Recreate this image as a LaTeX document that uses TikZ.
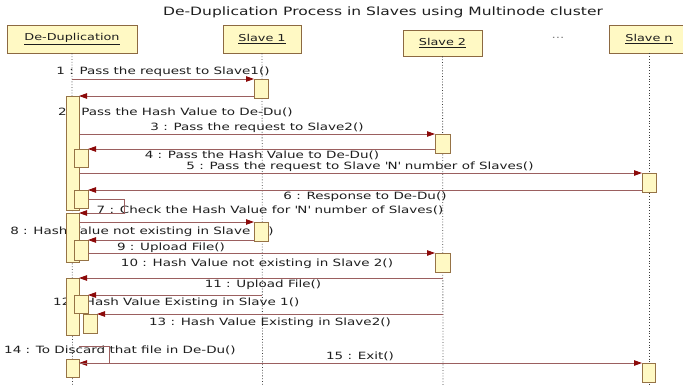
\documentclass[tikz,border=0pt]{standalone}
\usepackage{fontspec}
\setmainfont{DejaVu Sans}[FakeStretch=1.35]
\usepackage{tikz}
\usetikzlibrary{arrows.meta}

\definecolor{boxfill}{RGB}{255,249,196}
\definecolor{headline}{RGB}{140,105,65}
\definecolor{actline}{RGB}{150,115,70}
\definecolor{msgline}{RGB}{155,95,95}
\definecolor{tipred}{RGB}{140,10,10}
\definecolor{lifecol}{RGB}{60,60,60}
\definecolor{txt}{RGB}{30,30,30}

\begin{document}
\begin{tikzpicture}[
  x=1pt, y=-1pt,
  headbox/.style={rectangle, draw=headline, fill=boxfill, line width=0.9pt, minimum height=28, font=\fontsize{9.5}{11}\selectfont, text=txt},
  actbar/.style={rectangle, draw=actline, fill=boxfill, line width=0.8pt, inner sep=0, outer sep=0},
  msgarrow/.style={draw=msgline, line width=0.9pt, -{Triangle[length=8pt,width=5.5pt,color=tipred]}},
  msglabel/.style={inner sep=0, font=\fontsize{10}{12}\selectfont, text=txt},
  lifeline/.style={dotted, line width=0.8pt, draw=lifecol}
]
\useasboundingbox (0,0) rectangle (683,386);

% Title
\node[inner sep=0, font=\fontsize{11.5}{14}\selectfont, text=txt] (title) at (383,12) {De-Duplication Process in Slaves using Multinode cluster};

% Objects
\node[headbox, minimum width=130] (hdd) at (72,39) {\underline{De-Duplication}};
\node[headbox, minimum width=78] (hs1) at (262,39) {\underline{Slave 1}};
\node[headbox, minimum width=79, minimum height=26] (hs2) at (442.5,43) {\underline{Slave 2}};
\node[msglabel, text=gray] (dots) at (558,38) {...};
\node[headbox, minimum width=80] (hsn) at (649,39) {\underline{Slave n}};

% Lifelines
\coordinate (ddend) at (72.5,386);
\coordinate (s1end) at (262.5,386);
\coordinate (s2end) at (443,386);
\coordinate (snend) at (649,386);
\draw[lifeline] (hdd) -- (ddend);
\draw[lifeline] (hs1) -- (s1end);
\draw[lifeline] (hs2) -- (s2end);
\draw[lifeline] (hsn) -- (snend);

% Labels
\node[msglabel] (lab1) at (163,72) {1 : Pass the request to Slave1()};
\node[msglabel, anchor=west] (lab2) at (58,112) {2 : Pass the Hash Value to De-Du()};
\node[msglabel] (lab3) at (257,128) {3 : Pass the request to Slave2()};
\node[msglabel] (lab4) at (262,155) {4 : Pass the Hash Value to De-Du()};
\node[msglabel] (lab5) at (360,167) {5 : Pass the request to Slave \textquotesingle N\textquotesingle{} number of Slaves()};
\node[msglabel] (lab6) at (365,197) {6 : Response to De-Du()};
\node[msglabel] (lab7) at (270,210) {7 : Check the Hash Value for \textquotesingle N\textquotesingle{} number of Slaves()};
\node[msglabel] (lab8) at (142,232) {8 : Hash Value not existing in Slave 1()};
\node[msglabel] (lab9) at (171,248) {9 : Upload File()};
\node[msglabel] (lab10) at (257,264) {10 : Hash Value not existing in Slave 2()};
\node[msglabel] (lab11) at (263,285) {11 : Upload File()};
\node[msglabel, anchor=west] (lab12) at (53,303) {12 : Hash Value Existing in Slave 1()};
\node[msglabel] (lab13) at (270,323) {13 : Hash Value Existing in Slave2()};
\node[msglabel] (lab14) at (120,350) {14 : To Discard that file in De-Du()};
\node[msglabel] (lab15) at (360,356) {15 : Exit()};

% Activations
\node[actbar, minimum width=14, minimum height=19] (a1) at (261,88.5) {};
\node[actbar, minimum width=13, minimum height=114] (d1) at (72.5,153) {};
\node[actbar, minimum width=15, minimum height=19] (a2) at (442.5,143.5) {};
\node[actbar, minimum width=14, minimum height=18] (d1a) at (81,158) {};
\node[actbar, minimum width=14, minimum height=19] (a3) at (649,182.5) {};
\node[actbar, minimum width=14, minimum height=18] (d1b) at (81,199) {};
\node[actbar, minimum width=13, minimum height=49] (d2) at (72.5,237.5) {};
\node[actbar, minimum width=14, minimum height=20] (d2a) at (81,250) {};
\node[actbar, minimum width=14, minimum height=19] (a4) at (261,231.5) {};
\node[actbar, minimum width=15, minimum height=19] (a5) at (442.5,262.5) {};
\node[actbar, minimum width=13, minimum height=57] (d3) at (72.5,306.5) {};
\node[actbar, minimum width=14, minimum height=18] (d3a) at (81,304) {};
\node[actbar, minimum width=14, minimum height=19] (d3b) at (90,323.5) {};
\node[actbar, minimum width=13, minimum height=18] (d4) at (72.5,368) {};
\node[actbar, minimum width=13, minimum height=19] (a6) at (648.5,372.5) {};
\coordinate (selfstart) at (79,346);

% Messages
\draw[msgarrow] (hdd.south |- a1.north west) -- (a1.north west);
\draw[msgarrow] (d1.north east -| a1.west) -- (d1.north east);
\draw[msgarrow] (d1.east |- a2.north) -- (a2.north west);
\draw[msgarrow] (a2.west |- d1a.north) -- (d1a.north east);
\draw[msgarrow] (d1.east |- a3.north) -- (a3.north west);
\draw[msgarrow] (a3.west |- d1b.north) -- (d1b.north east);
\draw[msgarrow] (d1b.east) -- ++(36,0) |- (d2.north east);
\draw[msgarrow] (d2.east |- a4.north) -- (a4.north west);
\draw[msgarrow] (a4.west |- d2a.north) -- (d2a.north east);
\draw[msgarrow] (d2a.east |- a5.north) -- (a5.north west);
\draw[msgarrow] (hs2.south |- d3.north) -- (d3.north east);
\draw[msgarrow] (hs1.south |- d3a.north) -- (d3a.north east);
\draw[msgarrow] (hs2.south |- d3b.north) -- (d3b.north east);
\draw[msgarrow] (selfstart) -- ++(30,0) |- (d4.east |- a6.north);
\draw[msgarrow] (d4.east |- a6.north) -- (a6.north west);

\end{tikzpicture}
\end{document}
